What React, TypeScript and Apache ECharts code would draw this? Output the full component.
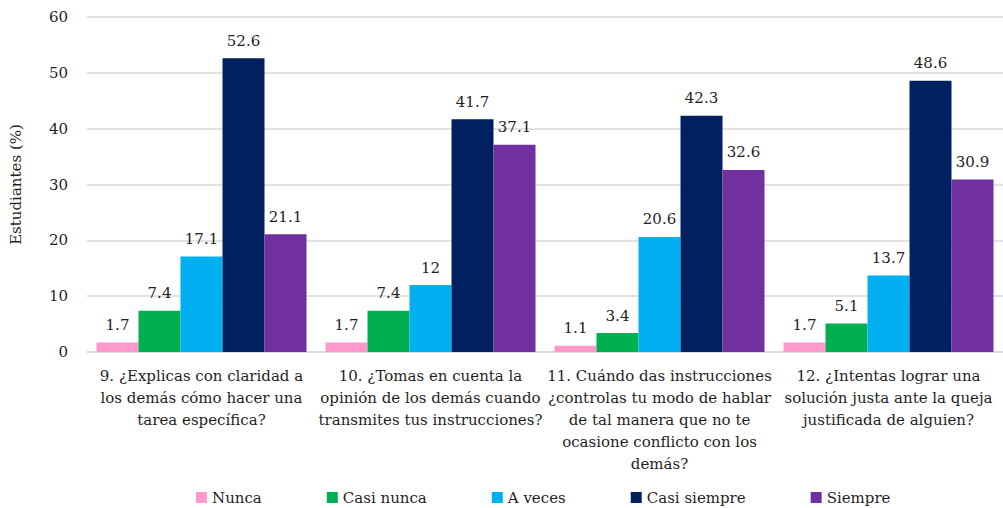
import React, { useEffect, useRef } from "react";
import * as echarts from "echarts";

const categories = [
  "9. ¿Explicas con claridad a\nlos demás cómo hacer una\ntarea específica?",
  "10. ¿Tomas en cuenta la\nopinión de los demás cuando\ntransmites tus instrucciones?",
  "11. Cuándo das instrucciones\n¿controlas tu modo de hablar\nde tal manera que no te\nocasione conflicto con los\ndemás?",
  "12. ¿Intentas lograr una\nsolución justa ante la queja\njustificada de alguien?",
];

const seriesNames = ["Nunca", "Casi nunca", "A veces", "Casi siempre", "Siempre"];
const nunca = [1.7, 1.7, 1.1, 1.7];
const casiNunca = [7.4, 7.4, 3.4, 5.1];
const aVeces = [17.1, 12, 20.6, 13.7];
const casiSiempre = [52.6, 41.7, 42.3, 48.6];
const siempre = [21.1, 37.1, 32.6, 30.9];
const seriesData = [nunca, casiNunca, aVeces, casiSiempre, siempre];
const colors = ["#FF99CC", "#00B050", "#00B0F0", "#002060", "#7030A0"];

const yTicks = { min: 0, max: 60, interval: 10 };

const FONT = "DejaVu Serif";
const TEXT = "#1f1f1f";

export default function App() {
  const ref = useRef<HTMLDivElement>(null);
  useEffect(() => {
    if (!ref.current) return;
    const chart = echarts.init(ref.current, undefined, { renderer: "svg" });
    chart.setOption({
      animation: false,
      backgroundColor: "#ffffff",
      textStyle: { fontFamily: FONT, color: TEXT },
      grid: { left: 82, right: 0, top: 17, bottom: 156, containLabel: false },
      legend: {
        data: seriesNames,
        left: 191,
        top: 485,
        icon: "rect",
        itemWidth: 11,
        itemHeight: 11,
        itemGap: 65,
        textStyle: { fontFamily: FONT, fontSize: 15, color: TEXT },
      },
      xAxis: {
        type: "category",
        data: categories,
        axisTick: { show: false },
        axisLine: { lineStyle: { color: "#d9d9d9", width: 1.5 } },
        axisLabel: {
          interval: 0,
          margin: 13,
          fontFamily: FONT,
          fontSize: 15,
          lineHeight: 22,
          color: TEXT,
          align: "center",
        },
      },
      yAxis: {
        type: "value",
        min: yTicks.min,
        max: yTicks.max,
        interval: yTicks.interval,
        name: "Estudiantes (%)",
        nameLocation: "middle",
        nameGap: 64,
        nameRotate: 90,
        nameTextStyle: { fontFamily: FONT, fontSize: 15, color: TEXT },
        axisLine: { show: false },
        axisTick: { show: false },
        axisLabel: { fontFamily: FONT, fontSize: 15, color: TEXT, margin: 19 },
        splitLine: { lineStyle: { color: "#d9d9d9", width: 1.5 } },
      },
      series: seriesNames.map((name, i) => ({
        name,
        type: "bar",
        data: seriesData[i],
        barWidth: 42,
        barGap: "0%",
        itemStyle: { color: colors[i] },
        label: {
          show: true,
          position: "top",
          distance: 10,
          fontFamily: FONT,
          fontSize: 15,
          color: TEXT,
        },
      })),
    });
    return () => chart.dispose();
  }, []);
  return (
    <div
      ref={ref}
      style={{ position: "absolute", left: 0, top: 0, width: 1003, height: 508 }}
    />
  );
}
